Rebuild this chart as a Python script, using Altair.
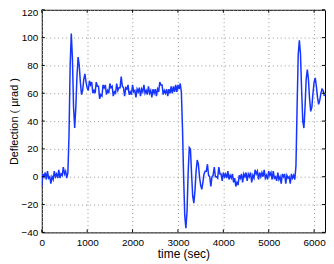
import altair as alt
import pandas as pd

# ---- data (time in s, deflection in µrad) ----
seg_a_start = 0
seg_a = [-7, 2, 0, 3, -2, 4, -1, 0, -5, 0, -2, 4, 0, 2, -1, 5, -1, 2, 1, 7, 2, 4, -1, 3]
seg_b_start = 600
seg_b = [30, 80, 103, 85, 50, 35, 50, 72, 86, 80, 68, 59, 62, 70, 74, 68]
seg_c_start = 1000
seg_c = [64, 62, 69, 66, 68, 60, 62, 60, 68, 65, 65, 56, 59, 58, 66, 64, 66, 59, 62, 60,
         67, 64, 65, 58, 61, 60, 67, 62, 64, 64, 72, 65, 64, 58, 64, 63, 66, 59, 61, 59,
         66, 61, 62, 57, 63, 61, 64, 58, 63, 61, 66, 60, 62, 59, 65, 60, 62, 57, 63, 60,
         63, 58, 63, 61, 68, 66, 66, 59, 62, 60, 63, 58, 63, 60, 65, 60, 65, 61, 66, 61,
         66, 63, 67, 61]
seg_d_start = 3100
seg_d = [35, 0, -28, -37, -25, 3, 21, 20, 2, -14, -19, -10, 4, 12, 9, 0, -6, -9, -4, 2]
seg_e_start = 3600
seg_e = [4, 4, 9, 1, 0, -7, 0, 1, 7, 0, 0, -1, 7, 2, 2, -3, 3, 0, 2, -1,
         4, -2, 1, -1, 2, -4, -1, -7, -4, -6, 1, -1, 2, -4, 2, 0, 3, -3, 2, 0,
         3, -4, 1, -1, 5, 2, 4, -2, 3, 0, 3, 0, 5, -1, 1, -2, 4, 1, 3, -2,
         4, -1, 0, -3, 3, -2, 0, -5, 2, 0, 2, -5, 1, -1, 0, -5, 2, -1, 1, -2]
seg_f_start = 5600
seg_f = [8, 50, 88, 98, 88, 62, 40, 35, 50, 70, 77, 70, 56, 47, 50, 60, 68, 71, 65, 57,
         52, 55, 60, 63, 62, 58]
step_s = 25

x_ticks = [0, 1000, 2000, 3000, 4000, 5000, 6000]
y_ticks = [-40, -20, 0, 20, 40, 60, 80, 100, 120]
x_domain = [0, 6240]
y_domain = [-40, 120]

rows = []
for start, vals in [(seg_a_start, seg_a), (seg_b_start, seg_b), (seg_c_start, seg_c),
                    (seg_d_start, seg_d), (seg_e_start, seg_e), (seg_f_start, seg_f)]:
    for i, v in enumerate(vals):
        rows.append({"t": start + i * step_s, "v": v})
df = pd.DataFrame(rows)

# inward tick marks (MATLAB style)
tk_x = 66   # ~3 px in time units
tk_y = 2.14  # ~3 px in deflection units
tick_rows = []
for t in x_ticks:
    tick_rows.append({"t": t, "t2": t, "v": y_domain[0], "v2": y_domain[0] + tk_y})
    tick_rows.append({"t": t, "t2": t, "v": y_domain[1], "v2": y_domain[1] - tk_y})
for v in y_ticks:
    tick_rows.append({"t": x_domain[0], "t2": x_domain[0] + tk_x, "v": v, "v2": v})
    tick_rows.append({"t": x_domain[1], "t2": x_domain[1] - tk_x, "v": v, "v2": v})
ticks_df = pd.DataFrame(tick_rows)

font = "Liberation Sans"
xscale = alt.Scale(domain=x_domain, nice=False, zero=False)
yscale = alt.Scale(domain=y_domain, nice=False, zero=False)
xaxis = alt.Axis(values=x_ticks, title="time (sec)", format="d", labelFlush=False,
                 labelOverlap=False, labelPadding=5, titlePadding=1, titleFontSize=12)
yaxis = alt.Axis(values=y_ticks, title="Deflection ( µrad )", format="d", labelFlush=False,
                 labelOverlap=False, labelPadding=4, titlePadding=1, titleFontSize=11,
                 labelOffset={"condition": {"test": "datum.value == 120", "value": 3},
                              "value": 0})

line = alt.Chart(df).mark_line(color="#1535ff", strokeWidth=1.5, clip=True).encode(
    x=alt.X("t:Q", scale=xscale, axis=xaxis),
    y=alt.Y("v:Q", scale=yscale, axis=yaxis),
)

ticks = alt.Chart(ticks_df).mark_rule(color="black", strokeWidth=1).encode(
    x=alt.X("t:Q", scale=xscale, axis=xaxis),
    x2="t2:Q",
    y=alt.Y("v:Q", scale=yscale, axis=yaxis),
    y2="v2:Q",
)

chart = alt.layer(line, ticks).properties(
    width=285, height=224,
    autosize=alt.AutoSizeParams(type="none"),
    padding={"left": 34, "top": 1, "right": 1, "bottom": 28},
).configure_view(
    stroke="black", strokeWidth=1
).configure_axis(
    domain=False, ticks=False,
    grid=True, gridColor="#9a9a9a", gridDash=[1, 3], gridWidth=1,
    labelFont=font, labelFontSize=10, labelColor="black",
    titleFont=font, titleFontWeight="normal", titleColor="black",
)

chart.save("out.html", embed_options={"renderer": "svg", "actions": False})
